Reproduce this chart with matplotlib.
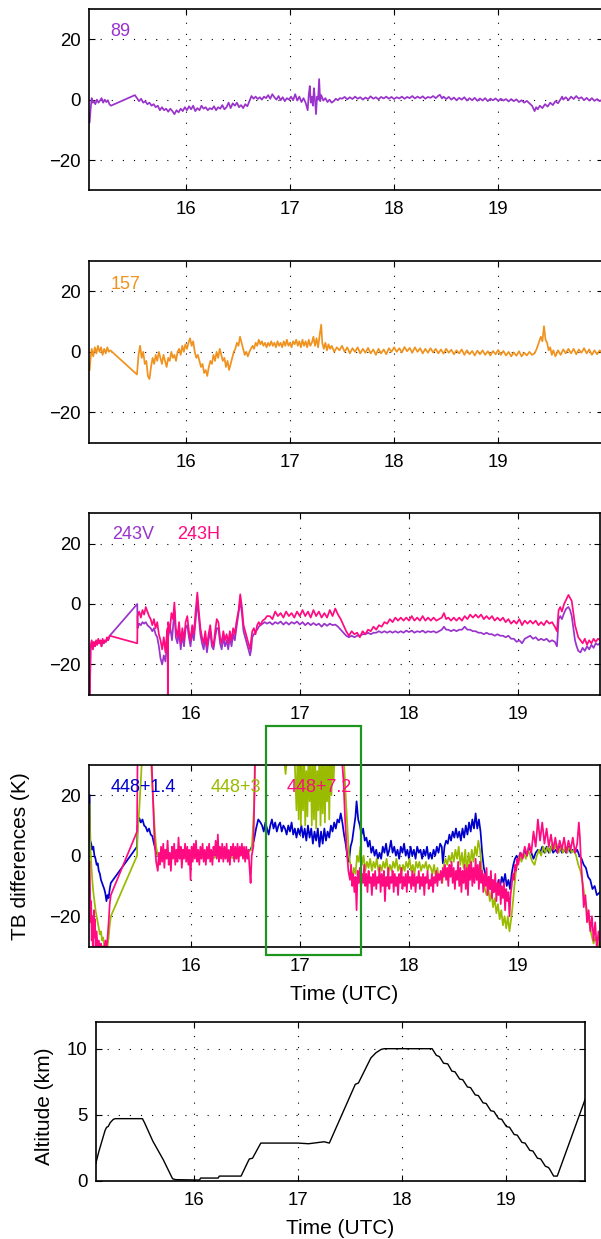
import matplotlib
matplotlib.use('Agg')
import matplotlib.pyplot as plt
from matplotlib.patches import Rectangle

plt.rcParams['font.family'] = ['Liberation Sans', 'DejaVu Sans']

# ---------------- data (time UTC hours, value) ----------------
ch89 = [(15.075,-7.5),(15.085,-3),(15.095,0.5),(15.105,-1),(15.115,-0.5),(15.13,-1.5),(15.145,0),(15.16,-1),
        (15.175,-0.3),(15.19,0.5),(15.205,-1),(15.22,0),(15.235,-0.8),(15.25,-0.2),(15.265,-1.5),(15.28,-2),
        (15.51,1.5),(15.53,0.5),(15.55,-0.5),(15.57,0.3),(15.59,-1),(15.61,-0.5),(15.63,-1.5),(15.65,-1),
        (15.67,-2),(15.69,-1.5),(15.71,-2.5),(15.73,-2),(15.75,-3.5),(15.77,-2.5),(15.79,-3.5),(15.81,-3),
        (15.83,-4),(15.85,-3),(15.87,-3.8),(15.89,-4.8),(15.91,-3.5),(15.93,-4.2),(15.95,-3),(15.97,-3.8),
        (15.99,-2.5),(16.01,-3.5),(16.03,-2.2),(16.05,-3.2),(16.07,-2),(16.09,-3.8),(16.11,-2.8),(16.13,-3.5),
        (16.15,-2),(16.17,-3),(16.19,-2.5),(16.21,-3.5),(16.23,-2.8),(16.25,-3.2),(16.27,-2.2),(16.29,-3.5),
        (16.31,-2.5),(16.33,-3),(16.35,-1.8),(16.37,-3.2),(16.39,-2.5),(16.41,-1),(16.43,-2.8),(16.45,-1.2),
        (16.47,-2),(16.49,-1),(16.51,-2.5),(16.53,-1.8),(16.55,-2.8),(16.57,-1.5),(16.59,-2.2),(16.61,-0.5),
        (16.63,1.2),(16.65,0.3),(16.67,1),(16.69,0.2),(16.71,0.8),(16.73,0),(16.75,1),(16.77,0.5),(16.79,1.5),
        (16.81,0.3),(16.83,1.8),(16.85,0.8),(16.87,0),(16.89,1.2),(16.91,-0.2),(16.93,0.8),(16.95,-0.5),
        (16.97,0.5),(16.99,0),(17.01,1),(17.03,-0.2),(17.05,1.8),(17.07,-0.3),(17.09,1),(17.11,-0.8),(17.13,0.5),
        (17.15,-1),(17.17,-3.5),(17.18,1.5),(17.19,4.5),(17.20,-1),(17.21,1),(17.22,-2),(17.23,3.8),(17.24,0),
        (17.25,-4.8),(17.26,1),(17.27,0),(17.28,6.8),(17.29,-0.5),(17.30,1.5),(17.32,-0.3),(17.34,0.5),
        (17.36,-0.8),(17.38,0),(17.40,-1),(17.42,-0.5),(17.44,0.3),(17.46,-0.2),(17.48,0.5),(17.50,0.3),
        (17.525,0.9),(17.55,0.1),(17.575,0.8),(17.60,0.2),(17.625,1),(17.65,0.3),(17.675,0.8),(17.70,0),
        (17.725,0.7),(17.75,0.2),(17.775,1.1),(17.80,0.3),(17.825,0.8),(17.85,0.1),(17.875,0.9),(17.90,0.4),
        (17.925,1),(17.95,0.3),(17.975,0.9),(18.00,0.2),(18.025,0.8),(18.05,0.4),(18.075,1),(18.10,0.3),
        (18.125,0.9),(18.15,0.5),(18.175,1.2),(18.20,0.4),(18.225,1),(18.25,0.5),(18.275,1.1),(18.30,0.3),
        (18.325,0.9),(18.35,0.6),(18.375,1.2),(18.40,0.5),(18.425,1.3),(18.44,1.6),(18.46,0.4),(18.475,1),
        (18.50,0.2),(18.525,0.9),(18.55,0),(18.575,0.7),(18.60,-0.2),(18.625,0.6),(18.65,0),(18.675,0.8),
        (18.70,-0.3),(18.725,0.5),(18.75,-0.2),(18.775,0.6),(18.80,-0.4),(18.825,0.4),(18.85,-0.3),(18.875,0.5),
        (18.90,-0.5),(18.925,0.3),(18.95,-0.2),(18.975,0.4),(19.00,-0.4),(19.025,0.3),(19.05,-0.3),(19.075,0.2),
        (19.10,-0.6),(19.125,0.2),(19.15,-0.5),(19.175,0.1),(19.20,-0.8),(19.225,-0.2),(19.25,-1),(19.275,-0.4),
        (19.30,-1.2),(19.325,-2),(19.35,-3.8),(19.365,-2.5),(19.38,-3.2),(19.40,-2),(19.425,-2.8),(19.45,-1.5),
        (19.475,-2.3),(19.50,-1),(19.525,-1.8),(19.55,-0.5),(19.575,-1.2),(19.60,0.2),(19.615,1),(19.625,0),
        (19.65,0.8),(19.675,-0.2),(19.70,1),(19.725,0.2),(19.75,1.2),(19.775,0.3),(19.80,0.8),(19.825,-0.2),
        (19.85,0.6),(19.875,-0.3),(19.90,0.5),(19.925,-0.4),(19.95,0.2),(19.975,-0.5),(20.0,0)]

ch157 = [(15.075,-6),(15.085,-2),(15.095,1),(15.11,-1.5),(15.125,1.5),(15.14,-0.5),(15.155,2),(15.17,0),
         (15.185,1.5),(15.20,-1),(15.215,1),(15.23,-0.5),(15.245,1.5),(15.26,0),(15.275,0.5),
         (15.53,-7.5),(15.545,-1),(15.56,2),(15.575,-2),(15.59,0),(15.605,-4),(15.62,-3),(15.635,-8),(15.65,-9),
         (15.665,-5),(15.68,-2),(15.695,-4),(15.71,-1),(15.725,-3),(15.74,0),(15.755,-2),(15.77,-4),(15.785,-1),
         (15.80,-3),(15.815,-5),(15.83,-2),(15.845,-3),(15.86,0),(15.875,-2),(15.89,-1),(15.905,-3),(15.92,0),
         (15.935,1),(15.95,-1),(15.965,2),(15.98,0),(15.995,2.5),(16.01,1),(16.025,3),(16.04,4.5),(16.055,2),
         (16.07,3.5),(16.085,0),(16.10,-2),(16.115,-1),(16.13,-3),(16.145,-5),(16.16,-4),(16.175,-7),(16.19,-6),
         (16.205,-8),(16.22,-5),(16.235,-3),(16.25,-4),(16.265,-1),(16.28,-3),(16.295,0),(16.31,-2),(16.325,1),
         (16.34,-1),(16.355,-3),(16.37,-2),(16.385,-5),(16.40,-3),(16.415,-6),(16.43,-4),(16.445,-2),(16.46,0),
         (16.475,1),(16.49,3),(16.505,2),(16.52,5),(16.535,3),(16.55,1),(16.565,-1),(16.58,0),(16.595,-1.5),
         (16.61,0),(16.625,1),(16.64,2),(16.655,1),(16.67,3),(16.685,2),(16.70,4),(16.715,2.5),(16.73,3.5),
         (16.745,2),(16.76,3),(16.775,1.5),(16.79,3),(16.805,2),(16.82,3.5),(16.835,2),(16.85,3),(16.865,1.5),
         (16.88,3.5),(16.895,2),(16.91,3),(16.925,1.5),(16.94,3.5),(16.955,2),(16.97,4),(16.985,2),(17.00,3),
         (17.015,1.5),(17.03,3.5),(17.045,2.5),(17.06,4),(17.075,2),(17.09,3.5),(17.105,1.5),(17.12,4),(17.135,2),
         (17.15,3.5),(17.165,1.5),(17.18,4),(17.195,2),(17.21,3),(17.225,5),(17.24,2),(17.255,4.5),(17.27,1.5),
         (17.285,5.5),(17.30,9),(17.31,3),(17.325,1),(17.34,3),(17.355,0.5),(17.37,2.5),(17.385,1),(17.40,2),
         (17.425,0),(17.45,1.5),(17.475,0.5),(17.50,2),(17.525,0),(17.55,1.5),(17.575,-0.5),(17.60,1.2),
         (17.625,0),(17.65,1.5),(17.675,-0.5),(17.70,1),(17.725,-0.3),(17.75,1.3),(17.775,-0.5),(17.80,0.8),
         (17.825,-1),(17.85,1),(17.875,-0.5),(17.90,0.8),(17.925,-0.8),(17.95,1.2),(17.975,0),(18.00,1.5),
         (18.025,0),(18.05,1.2),(18.075,-0.2),(18.10,1.6),(18.125,0.2),(18.15,1.3),(18.175,-0.3),(18.20,1.5),
         (18.225,0),(18.25,1.2),(18.275,-0.5),(18.30,1),(18.325,-0.3),(18.35,1.2),(18.375,-0.2),(18.40,1),
         (18.425,-0.5),(18.45,0.8),(18.475,-0.6),(18.50,1),(18.525,-0.3),(18.55,0.7),(18.575,-0.8),(18.60,0.5),
         (18.625,-0.5),(18.65,0.8),(18.675,-1),(18.70,0.5),(18.725,-0.8),(18.75,0.3),(18.775,-1.2),(18.80,0.4),
         (18.825,-0.8),(18.85,0.5),(18.875,-1),(18.90,0.2),(18.925,-1.2),(18.95,0.3),(18.975,-0.8),(19.00,0.6),
         (19.025,-1),(19.05,0.3),(19.075,-1.2),(19.10,0),(19.125,-1.5),(19.15,-0.2),(19.175,-1.3),(19.20,0.2),
         (19.225,-1.5),(19.25,-0.3),(19.275,-1.2),(19.30,0),(19.325,-1),(19.35,-0.5),(19.37,1),(19.39,3),
         (19.41,5),(19.425,3.5),(19.44,8.5),(19.455,4),(19.47,3),(19.485,0.5),(19.50,1.5),(19.515,-1),(19.53,0.5),
         (19.55,-1.5),(19.575,0.5),(19.60,-1),(19.625,0.8),(19.65,-0.5),(19.675,1),(19.70,-0.5),(19.725,1),
         (19.75,-0.8),(19.775,0.8),(19.80,-0.3),(19.825,1.2),(19.85,-0.5),(19.875,0.8),(19.90,-1),(19.925,0.5),
         (19.95,-0.8),(19.975,0.5),(20.0,-0.5)]

ch243V = [(15.078,-30),(15.085,-14),(15.095,-12.5),(15.105,-15),(15.115,-13),(15.125,-14),(15.135,-12.5),
          (15.145,-13.5),(15.155,-12),(15.165,-13),(15.175,-12.5),(15.185,-14),(15.195,-12),(15.205,-13),
          (15.215,-12.5),(15.225,-12.5),(15.235,-11.5),(15.245,-12),(15.26,-10.5),
          (15.512,0),(15.515,-8),(15.53,-6.5),(15.545,-7),(15.56,-6),(15.575,-6.5),(15.59,-6),(15.605,-7),
          (15.62,-7.5),(15.635,-8),(15.65,-9),(15.665,-8),(15.68,-10),(15.695,-11),(15.71,-14),(15.725,-18),
          (15.74,-20),(15.755,-17),(15.77,-19),(15.785,-13),(15.80,-10),(15.815,-8),(15.83,-12),(15.845,-5),
          (15.852,-2),(15.865,-11),(15.88,-13),(15.895,-9),(15.91,-15),(15.925,-10),(15.94,-14),(15.955,-8),
          (15.97,-7),(15.985,-11),(16.0,-14),(16.015,-9),(16.03,-12),(16.045,-6),(16.062,1),(16.075,-4),
          (16.09,-10),(16.105,-13),(16.12,-15),(16.135,-11),(16.15,-16),(16.165,-12),(16.18,-9),(16.195,-14),
          (16.21,-15),(16.225,-11),(16.24,-8),(16.255,-8),(16.27,-13),(16.285,-15),(16.30,-11),(16.315,-14),
          (16.33,-12),(16.345,-15),(16.36,-11),(16.375,-14),(16.39,-10),(16.405,-12),(16.42,-8),(16.44,-3),
          (16.455,1),(16.47,-3),(16.485,-9),(16.50,-11),(16.515,-13),(16.53,-15),(16.545,-17),(16.555,-15),
          (16.565,-11),(16.58,-10),(16.595,-9),(16.61,-8.5),(16.625,-7.5),(16.64,-7),(16.66,-6.5),(16.68,-6),
          (16.70,-6.5),(16.725,-6),(16.75,-6.8),(16.775,-6),(16.80,-6.5),(16.825,-5.8),(16.85,-6.8),(16.875,-6),
          (16.90,-6.8),(16.925,-6),(16.95,-6.5),(16.975,-5.8),(17.0,-6.8),(17.025,-6),(17.05,-7),(17.075,-6.2),
          (17.10,-7),(17.125,-6.3),(17.15,-7),(17.175,-6.5),(17.20,-7.5),(17.225,-6.5),(17.25,-7.2),(17.275,-6.5),
          (17.30,-7),(17.325,-6.8),(17.35,-7.5),(17.375,-8.5),(17.40,-9.5),(17.425,-10.5),(17.45,-11),
          (17.475,-10.5),(17.50,-11),(17.525,-10.5),(17.55,-10.5),(17.575,-10),(17.60,-10),(17.625,-9.5),
          (17.65,-10),(17.675,-9.5),(17.70,-9.5),(17.725,-9),(17.75,-9.5),(17.775,-9),(17.80,-9.5),(17.825,-9),
          (17.85,-9.5),(17.875,-9),(17.90,-9.5),(17.925,-9),(17.95,-9.5),(17.975,-8.8),(18.00,-9.3),(18.025,-8.8),
          (18.05,-9.5),(18.075,-9),(18.10,-9.3),(18.125,-8.8),(18.15,-9.5),(18.175,-9),(18.20,-9.3),(18.225,-9),
          (18.25,-9.5),(18.275,-9),(18.30,-8.5),(18.32,-7.5),(18.34,-8.5),(18.36,-8.5),(18.385,-9),(18.41,-8.5),
          (18.435,-9),(18.46,-8.5),(18.485,-8.5),(18.51,-7.5),(18.535,-8.5),(18.56,-8.5),(18.585,-9),(18.61,-9),
          (18.635,-9.5),(18.66,-9.5),(18.685,-10),(18.71,-9.5),(18.735,-10),(18.76,-10),(18.785,-10.5),
          (18.81,-10),(18.835,-10.5),(18.86,-10.5),(18.885,-11),(18.91,-10.5),(18.935,-11.5),(18.96,-11.5),
          (18.985,-12.5),(19.01,-12),(19.035,-13),(19.06,-11.5),(19.085,-11),(19.11,-10.5),(19.135,-11.5),
          (19.16,-11),(19.185,-12),(19.21,-11.5),(19.235,-12),(19.26,-11.5),(19.285,-12.5),(19.31,-12),
          (19.335,-12.5),(19.355,-14),(19.37,-5),(19.385,-4),(19.40,-5),(19.42,-3),(19.44,-1.5),(19.46,-1),
          (19.475,-2),(19.49,-4),(19.505,-8),(19.52,-12),(19.535,-14),(19.55,-15.5),(19.57,-16),(19.59,-14.5),
          (19.61,-15.5),(19.63,-14),(19.65,-15),(19.67,-13.5),(19.69,-14.5),(19.71,-13),(19.73,-13.5),(19.75,-13)]

ch243H = [(15.078,-30),(15.085,-14),(15.095,-12),(15.105,-15),(15.115,-12.5),(15.125,-14),(15.135,-12),
          (15.145,-13.5),(15.155,-11.5),(15.165,-13),(15.175,-12),(15.185,-14),(15.195,-11.5),(15.205,-13),
          (15.215,-12),(15.225,-12.5),(15.235,-11),(15.245,-12),(15.26,-10.5),
          (15.512,-13),(15.515,-4),(15.53,-2.5),(15.545,-4.5),(15.56,-2),(15.575,-3.5),(15.59,-1),(15.605,-2.5),
          (15.62,-4),(15.635,-5),(15.65,-7),(15.665,-5),(15.68,-8),(15.695,-6),(15.71,-10),(15.725,-12),
          (15.74,-15),(15.755,-11),(15.77,-16),(15.785,-9),(15.79,-8),(15.792,-30),(15.795,-6),(15.81,-9),
          (15.825,-3),(15.84,-5),(15.852,0.5),(15.865,-8),(15.88,-11),(15.895,-6),(15.91,-13),(15.925,-8),
          (15.94,-12),(15.955,-6),(15.97,-4),(15.985,-9),(16.0,-12),(16.015,-7),(16.03,-10),(16.045,-3),
          (16.062,3.8),(16.075,-2),(16.09,-8),(16.105,-11),(16.12,-13),(16.135,-9),(16.15,-14),(16.165,-10),
          (16.18,-7),(16.195,-12),(16.21,-14),(16.225,-9),(16.24,-5),(16.255,-6),(16.27,-11),(16.285,-13),
          (16.30,-9),(16.315,-12),(16.33,-10),(16.345,-13),(16.36,-9),(16.375,-12),(16.39,-8),(16.405,-10),
          (16.42,-6),(16.44,-2),(16.455,3.2),(16.47,-1),(16.485,-7),(16.50,-9),(16.515,-11),(16.53,-13),
          (16.545,-15),(16.555,-12),(16.565,-9),(16.58,-8),(16.595,-10),(16.61,-7),(16.625,-6),(16.64,-7),
          (16.66,-5.5),(16.68,-5),(16.70,-4),(16.725,-4),(16.75,-5),(16.775,-2.5),(16.80,-4),(16.825,-3),
          (16.85,-4.5),(16.875,-2.5),(16.90,-4),(16.925,-3),(16.95,-4.5),(16.975,-2.5),(17.0,-4),(17.025,-2),
          (17.05,-4),(17.075,-2.5),(17.10,-4.5),(17.125,-2),(17.15,-4),(17.175,-2.5),(17.20,-4.5),(17.225,-3),
          (17.25,-4.5),(17.275,-2),(17.30,-4),(17.325,-1.5),(17.35,-3.5),(17.375,-5),(17.40,-7),(17.425,-9),
          (17.45,-10.5),(17.475,-9),(17.50,-10),(17.525,-9.5),(17.55,-11),(17.575,-9),(17.60,-10),(17.625,-8.5),
          (17.65,-9),(17.675,-7.5),(17.70,-8.5),(17.725,-7),(17.75,-7.5),(17.775,-6),(17.80,-6.5),(17.825,-5),
          (17.85,-6),(17.875,-4.5),(17.90,-5.5),(17.925,-4.5),(17.95,-5.5),(17.975,-4.5),(18.00,-5.5),(18.025,-4),
          (18.05,-5.5),(18.075,-4.5),(18.10,-5.5),(18.125,-4),(18.15,-5.5),(18.175,-4.5),(18.20,-5.5),
          (18.225,-4.5),(18.25,-5.5),(18.275,-5),(18.30,-4.5),(18.32,-3),(18.34,-5),(18.36,-4.5),(18.385,-5.5),
          (18.41,-4.5),(18.435,-5.5),(18.46,-4.5),(18.485,-5.5),(18.51,-4),(18.535,-5),(18.56,-3.5),(18.585,-4.5),
          (18.61,-3.5),(18.635,-4.5),(18.66,-3.5),(18.685,-5),(18.71,-4),(18.735,-5),(18.76,-4),(18.785,-5.5),
          (18.81,-4.5),(18.835,-5.5),(18.86,-4.5),(18.885,-6),(18.91,-5),(18.935,-6.5),(18.96,-5.5),(18.985,-6.5),
          (19.01,-5),(19.035,-7),(19.06,-5.5),(19.085,-6.5),(19.11,-5.5),(19.135,-6.5),(19.16,-5.5),(19.185,-7),
          (19.21,-6),(19.235,-7),(19.26,-5.5),(19.285,-6.5),(19.31,-6),(19.335,-7.5),(19.355,-9),(19.37,-2),
          (19.385,-1),(19.40,-2.5),(19.42,0),(19.44,1.5),(19.46,3),(19.475,2),(19.49,1),(19.505,-3),(19.52,-7),
          (19.535,-9),(19.55,-11),(19.57,-12),(19.59,-13),(19.61,-11.5),(19.63,-13.5),(19.65,-12),(19.67,-13),
          (19.69,-11.5),(19.71,-12.5),(19.73,-11.5),(19.75,-12)]

ch448_14 = [(15.076,20),(15.082,5),(15.09,4),(15.10,2),(15.11,3),(15.12,0),(15.13,-1),(15.14,-3),(15.15,-2.5),
            (15.16,-5),(15.17,-6),(15.18,-8),(15.19,-9),(15.20,-10),(15.21,-11),(15.22,-12.5),(15.23,-15),
            (15.24,-13),(15.25,-14),(15.26,-11),(15.27,-9),
            (15.51,3),(15.515,10),(15.53,12.5),(15.545,11),(15.56,12),(15.575,10),(15.59,9.5),(15.605,8),(15.62,9),
            (15.635,7),(15.65,6.5),(15.665,4),(15.68,2),(15.70,0),(15.75,1),(15.8,-1),(15.85,1),(15.9,0),(15.95,1),
            (16.0,-1),(16.1,1),(16.2,0),(16.3,1),(16.4,0),(16.5,1),(16.55,2),(16.58,5),(16.60,9),(16.62,12),
            (16.64,11),(16.655,10),(16.67,8),(16.685,11),(16.70,9),(16.715,7),(16.73,10),(16.745,12),(16.76,9),
            (16.775,11),(16.79,8),(16.805,10),(16.82,11),(16.835,8),(16.85,10),(16.865,9),(16.88,7),(16.895,10),
            (16.91,8),(16.925,11),(16.94,7),(16.955,9),(16.97,6),(16.985,9),(17.0,7),(17.015,10),(17.03,6),
            (17.045,9),(17.06,5),(17.075,10),(17.09,6),(17.105,9),(17.12,4),(17.135,8),(17.15,5),(17.165,9),
            (17.18,3),(17.195,8),(17.21,4),(17.225,9),(17.24,5),(17.255,8),(17.27,6),(17.285,10),(17.30,8),
            (17.315,11),(17.33,9),(17.345,12),(17.36,11),(17.375,14),(17.39,11),(17.405,7),(17.42,4),(17.435,0),
            (17.45,-2),(17.465,3),(17.48,5),(17.495,9),(17.51,13),(17.52,18),(17.535,12),(17.55,10),(17.565,7),
            (17.58,9),(17.595,5),(17.61,6),(17.625,3),(17.64,5),(17.655,1),(17.67,3),(17.685,0),(17.70,2),
            (17.715,-1),(17.73,1),(17.745,-1),(17.76,3),(17.775,1),(17.79,4),(17.805,0),(17.82,2),(17.835,5),
            (17.85,1),(17.865,3),(17.88,0),(17.895,2),(17.91,-1),(17.925,3),(17.94,1),(17.955,4),(17.97,0),
            (17.985,2),(18.0,-1),(18.015,3),(18.03,0),(18.045,2),(18.06,-1),(18.075,3),(18.09,1),(18.105,2),
            (18.12,-1),(18.135,2),(18.15,0),(18.165,3),(18.18,-1),(18.195,1),(18.21,-1),(18.225,2),(18.24,0),
            (18.255,3),(18.27,1),(18.285,4),(18.30,3),(18.31,-2.5),(18.325,3),(18.34,5),(18.355,4),(18.37,7),
            (18.385,5),(18.40,8),(18.415,6),(18.43,9),(18.445,6),(18.46,8),(18.475,5),(18.49,9),(18.505,6),
            (18.52,10),(18.535,7),(18.55,11),(18.565,8),(18.58,12),(18.595,9),(18.61,14),(18.625,9),(18.64,12),
            (18.655,8),(18.67,1),(18.685,-4),(18.70,-6),(18.715,-9),(18.73,-7),(18.745,-11),(18.76,-8),
            (18.775,-12),(18.79,-9),(18.805,-11),(18.82,-8),(18.835,-10),(18.85,-7),(18.865,-9),(18.88,-6),
            (18.895,-10),(18.91,-8),(18.925,-11),(18.94,-6),(18.955,-3),(18.97,-1),(18.985,0),(19.0,-1),(19.02,1),
            (19.04,-0.5),(19.06,2),(19.08,0),(19.10,3),(19.12,1),(19.14,-1),(19.16,1),(19.18,2),(19.20,1),
            (19.22,3),(19.24,1),(19.26,3),(19.28,1),(19.30,3),(19.32,1),(19.34,2),(19.36,1),(19.38,3),(19.40,1),
            (19.42,2),(19.44,1),(19.46,3),(19.48,1),(19.50,2),(19.52,1),(19.54,2),(19.56,0),(19.58,-1),(19.60,-3),
            (19.62,-4),(19.64,-7),(19.66,-8),(19.68,-11),(19.70,-10),(19.72,-13),(19.75,-12)]

ch448_3 = [(15.076,17),(15.08,5),(15.09,-2),(15.10,-8),(15.11,-12),(15.12,-15),(15.13,-18),(15.14,-20),
           (15.15,-22),(15.16,-24),(15.17,-26),(15.18,-25),(15.19,-28),(15.20,-27),(15.21,-30),(15.22,-29),
           (15.23,-31),(15.24,-30),(15.25,-27),(15.26,-23),(15.27,-20),
           (15.51,0),(15.515,8),(15.53,15),(15.545,25),(15.56,35),(15.58,35),(15.60,33),(15.62,35),(15.64,30),
           (15.655,20),(15.67,10),(15.685,3),(15.70,0),(15.75,2),(15.8,-1),(15.9,1),(16.0,-1),(16.1,1),(16.2,-1),
           (16.3,1),(16.4,-1),(16.5,1),(16.56,2),(16.58,15),(16.595,35),(16.85,35),(16.87,27),(16.89,35),
           (16.95,35),(16.97,15),(16.98,35),(16.99,12),(17.0,35),(17.01,10),(17.02,30),(17.03,15),(17.04,35),
           (17.05,10),(17.06,28),(17.07,13),(17.08,35),(17.09,18),(17.10,35),(17.11,10),(17.12,30),(17.13,12),
           (17.14,35),(17.15,9),(17.16,28),(17.17,15),(17.18,35),(17.19,10),(17.20,32),(17.21,14),(17.22,35),
           (17.23,11),(17.24,30),(17.25,18),(17.26,35),(17.27,12),(17.28,35),(17.29,20),(17.30,35),(17.31,25),
           (17.32,35),(17.40,35),(17.42,20),(17.435,10),(17.45,0),(17.465,-3),(17.48,-8),(17.495,-4),(17.51,-6),
           (17.525,0),(17.54,-2),(17.555,3),(17.57,-3),(17.585,0),(17.60,-5),(17.615,-2),(17.63,-4),(17.645,-1),
           (17.66,-5),(17.675,-2),(17.69,-4),(17.705,-1),(17.72,-5),(17.735,-3),(17.75,-5),(17.765,-2),(17.78,-4),
           (17.795,-1),(17.81,-6),(17.825,-3),(17.84,-5),(17.855,-2),(17.87,-4),(17.885,-1),(17.90,-5),
           (17.915,-3),(17.93,-6),(17.945,-3),(17.96,-5),(17.975,-2),(17.99,-4),(18.005,-1),(18.02,-5),
           (18.035,-3),(18.05,-6),(18.065,-2),(18.08,-4),(18.095,-2),(18.11,-5),(18.125,-3),(18.14,-4),
           (18.155,-2),(18.17,-5),(18.185,-3),(18.20,-4),(18.215,-6),(18.23,-3),(18.245,-7),(18.26,-4),
           (18.275,-8),(18.29,-6),(18.305,-9),(18.32,-3),(18.335,-1),(18.35,-3),(18.365,0),(18.38,-2),(18.395,1),
           (18.41,-2),(18.425,2),(18.44,-1),(18.455,3),(18.47,-3),(18.485,1),(18.50,-4),(18.515,2),(18.53,-6),
           (18.545,1),(18.56,-3),(18.575,2),(18.59,-2),(18.605,3),(18.62,0),(18.635,5),(18.65,2),(18.665,-4),
           (18.68,-8),(18.695,-11),(18.71,-13),(18.725,-10),(18.74,-15),(18.755,-12),(18.77,-17),(18.785,-14),
           (18.80,-19),(18.815,-16),(18.83,-21),(18.845,-18),(18.86,-23),(18.875,-20),(18.89,-24),(18.905,-20),
           (18.92,-25),(18.935,-21),(18.95,-16),(18.965,-10),(18.98,-5),(18.995,-2),(19.01,0),(19.03,-2),(19.05,1),
           (19.07,-1),(19.09,2),(19.11,0),(19.13,-2),(19.15,-3),(19.17,0),(19.19,2),(19.21,0),(19.23,3),(19.25,1),
           (19.27,3),(19.29,1),(19.31,4),(19.33,2),(19.35,4),(19.37,1),(19.39,3),(19.41,1),(19.43,3),(19.45,1),
           (19.47,3),(19.49,1),(19.51,2),(19.53,0),(19.55,-3),(19.57,-5),(19.59,-9),(19.61,-14),(19.63,-18),
           (19.65,-22),(19.67,-26),(19.69,-29),(19.71,-27),(19.73,-30),(19.75,-28)]

ch448_72 = [(15.076,-2),(15.08,-10),(15.085,-22),(15.09,-15),(15.095,-28),(15.10,-20),(15.105,-31),(15.11,-24),
            (15.115,-18),(15.12,-27),(15.125,-21),(15.13,-31),(15.14,-25),(15.15,-31),(15.16,-28),(15.17,-31),
            (15.18,-29),(15.19,-31),(15.20,-30),(15.21,-31),(15.22,-28),(15.23,-31),(15.24,-27),(15.25,-22),
            (15.26,-16),(15.27,-13),
            (15.51,8),(15.515,35),(15.64,35),(15.655,20),(15.67,5),(15.685,-2),(15.70,-5),(15.71,1),(15.72,-3),
            (15.73,3),(15.74,-2),(15.75,4),(15.76,-4),(15.77,2),(15.78,-1),(15.79,5),(15.80,-3),(15.81,1),
            (15.82,-5),(15.83,3),(15.84,-1),(15.85,4),(15.86,-3),(15.87,2),(15.88,-2),(15.89,6),(15.90,-1),
            (15.91,3),(15.92,-4),(15.93,2),(15.94,-1),(15.95,4),(15.96,-2),(15.97,3),(15.98,-3),(15.99,2),
            (16.00,-8),(16.01,3),(16.02,-2),(16.03,4),(16.04,-1),(16.05,5),(16.06,-2),(16.07,2),(16.08,-3),
            (16.09,3),(16.10,-1),(16.11,4),(16.12,-2),(16.13,2),(16.14,-3),(16.15,3),(16.16,-1),(16.17,4),
            (16.18,-2),(16.19,2),(16.20,-3),(16.21,3),(16.22,0),(16.23,5),(16.24,-1),(16.25,7),(16.26,-2),
            (16.27,3),(16.28,-1),(16.29,4),(16.30,-2),(16.31,3),(16.32,-1),(16.33,4),(16.34,-2),(16.35,2),
            (16.36,-3),(16.37,3),(16.38,0),(16.39,4),(16.40,-2),(16.41,3),(16.42,-1),(16.43,4),(16.44,-2),
            (16.45,3),(16.46,0),(16.47,4),(16.48,-1),(16.49,3),(16.50,-2),(16.51,3),(16.52,-1),(16.53,2),
            (16.54,-4),(16.55,-9),(16.56,0),(16.575,3),(16.585,20),(16.59,35),(17.38,35),(17.40,25),(17.415,12),
            (17.43,2),(17.445,-5),(17.46,-8),(17.47,-3),(17.48,-10),(17.49,-6),(17.50,-12),(17.51,-7),(17.52,-18),
            (17.53,-5),(17.54,-9),(17.55,-4),(17.56,-11),(17.57,-6),(17.58,-9),(17.59,-3),(17.60,-10),(17.61,-6),
            (17.62,-12),(17.63,-5),(17.64,-9),(17.65,-7),(17.66,-13),(17.67,-6),(17.68,-10),(17.69,-5),(17.70,-11),
            (17.71,-7),(17.72,-9),(17.73,-4),(17.74,-12),(17.75,-6),(17.76,-10),(17.77,-5),(17.78,-15),(17.79,-7),
            (17.80,-10),(17.81,-4),(17.82,-11),(17.83,-7),(17.84,-9),(17.85,-5),(17.86,-12),(17.87,-6),(17.88,-10),
            (17.89,-7),(17.90,-13),(17.91,-6),(17.92,-9),(17.93,-4),(17.94,-11),(17.95,-7),(17.96,-10),(17.97,-6),
            (17.98,-12),(17.99,-5),(18.00,-9),(18.01,-7),(18.02,-11),(18.03,-5),(18.04,-10),(18.05,-6),(18.06,-12),
            (18.07,-7),(18.08,-9),(18.09,-5),(18.10,-11),(18.11,-7),(18.12,-10),(18.13,-6),(18.14,-13),(18.15,-7),
            (18.16,-9),(18.17,-5),(18.18,-11),(18.19,-8),(18.20,-10),(18.21,-6),(18.22,-12),(18.23,-7),(18.24,-9),
            (18.25,-5),(18.26,-10),(18.27,-6),(18.28,-8),(18.29,-5),(18.30,-9),(18.31,-4),(18.32,-7),(18.33,-3),
            (18.34,-8),(18.35,-4),(18.36,-10),(18.37,-3),(18.38,-7),(18.39,-2),(18.40,-9),(18.41,-4),(18.42,-11),
            (18.43,-5),(18.44,-8),(18.45,-2),(18.46,-10),(18.47,-4),(18.48,-12),(18.49,-5),(18.50,-9),(18.51,-3),
            (18.52,-11),(18.53,-4),(18.54,-13),(18.55,-3),(18.56,-8),(18.57,-2),(18.58,-10),(18.59,-4),(18.60,-9),
            (18.61,-1),(18.62,-8),(18.63,-3),(18.64,-11),(18.65,-2),(18.66,-9),(18.67,-5),(18.68,-12),(18.69,-6),
            (18.70,-10),(18.71,-4),(18.72,-13),(18.73,-7),(18.74,-11),(18.75,-5),(18.76,-14),(18.77,-8),
            (18.78,-12),(18.79,-6),(18.80,-15),(18.81,-9),(18.82,-13),(18.83,-8),(18.84,-16),(18.85,-10),
            (18.86,-14),(18.87,-9),(18.88,-18),(18.89,-11),(18.90,-15),(18.91,-12),(18.92,-20),(18.93,-13),
            (18.94,-10),(18.95,-6),(18.96,-8),(18.97,-3),(18.98,-5),(18.99,-1),(19.00,-3),(19.02,1),(19.04,-1),
            (19.06,3),(19.08,0),(19.10,4),(19.12,1),(19.14,8),(19.16,3),(19.18,12),(19.20,5),(19.22,11),(19.24,4),
            (19.26,9),(19.28,3),(19.30,7),(19.32,2),(19.34,6),(19.36,1),(19.38,5),(19.40,2),(19.42,6),(19.44,1),
            (19.46,5),(19.48,2),(19.50,6),(19.52,1),(19.54,4),(19.555,11),(19.565,6),(19.575,-2),(19.59,-10),
            (19.60,-17),(19.615,-13),(19.63,-22),(19.645,-18),(19.66,-25),(19.675,-20),(19.69,-28),(19.705,-22),
            (19.72,-31),(19.735,-25),(19.75,-30)]

altitude = [(15.051,1.3),(15.08,2.2),(15.11,3.0),(15.14,3.8),(15.155,4.05),(15.17,4.1),(15.19,4.4),(15.22,4.65),
            (15.24,4.7),(15.50,4.7),(15.52,4.4),(15.60,3.0),(15.70,1.6),(15.79,0.15),(15.82,0.08),(16.05,0.05),
            (16.06,0.2),(16.23,0.2),(16.24,0.35),(16.45,0.35),(16.52,1.5),(16.53,1.65),(16.56,1.7),(16.64,2.85),
            (17.0,2.85),(17.1,2.8),(17.2,2.9),(17.25,2.95),(17.30,2.85),(17.55,7.3),(17.58,7.4),(17.70,9.3),
            (17.75,9.7),(17.80,9.95),(17.83,10.0),(18.29,10.0),(18.33,9.5),(18.36,9.4),(18.40,8.9),(18.44,8.85),
            (18.48,8.3),(18.51,8.25),(18.555,7.7),(18.585,7.65),(18.63,7.1),(18.66,7.05),(18.705,6.5),
            (18.735,6.45),(18.78,5.9),(18.81,5.85),(18.855,5.3),(18.885,5.25),(18.93,4.7),(18.96,4.65),
            (19.005,4.1),(19.035,4.05),(19.08,3.5),(19.11,3.45),(19.155,2.9),(19.185,2.85),(19.23,2.3),
            (19.26,2.25),(19.305,1.7),(19.335,1.65),(19.38,1.1),(19.41,1.0),(19.42,0.9),(19.46,0.35),(19.495,0.35),
            (19.765,6.2)]

# ---------------- layout ----------------
W, H = 601, 1239
fig = plt.figure(figsize=(6.01, 12.39), dpi=100)

def add(l, r, t, b):
    return fig.add_axes([l / W, 1 - b / H, (r - l) / W, (b - t) / H])

def style(ax, xlim, ylim, yt):
    ax.set_xlim(xlim)
    ax.set_ylim(ylim)
    ax.set_xticks([16, 17, 18, 19])
    ax.set_yticks(yt)
    ax.tick_params(direction='in', top=True, right=True, length=4.5, width=0.8, labelsize=13.4)
    ax.tick_params(axis='x', pad=8)
    ax.tick_params(axis='y', pad=6)
    for s in ax.spines.values():
        s.set_linewidth(1.2)
    ax.grid(True, color='k', linestyle=(0, (1, 9)), linewidth=0.8)
    ax.set_axisbelow(True)

def draw(ax, pairs, color, lw=1.25):
    t, v = zip(*pairs)
    ax.plot(t, v, color=color, lw=lw)

PURPLE = '#9933CC'
ORANGE = '#F0921E'
PINK = '#FF0A80'
BLUE = '#0000CC'
LIME = '#99BB00'

ax1 = add(89.3, 603, 9, 190.3)
style(ax1, (15.072, 20.007), (-30, 30), [-20, 0, 20])
draw(ax1, ch89, PURPLE)
ax1.text(15.27, 22.4, '89', color=PURPLE, fontsize=13, va='center', ha='left')

ax2 = add(89.3, 603, 261.2, 442.5)
style(ax2, (15.072, 20.007), (-30, 30), [-20, 0, 20])
draw(ax2, ch157, ORANGE)
ax2.text(15.28, 22.4, '157', color=ORANGE, fontsize=13, va='center', ha='left')

ax3 = add(89.3, 599.8, 513.3, 694.7)
style(ax3, (15.073, 19.747), (-30, 30), [-20, 0, 20])
draw(ax3, ch243V, PURPLE)
draw(ax3, ch243H, PINK)
ax3.text(15.28, 23, '243V', color=PURPLE, fontsize=13, va='center', ha='left')
ax3.text(15.88, 23, '243H', color=PINK, fontsize=13, va='center', ha='left')

ax4 = add(89.3, 599.8, 765, 946.5)
style(ax4, (15.073, 19.747), (-30, 30), [-20, 0, 20])
draw(ax4, ch448_14, BLUE)
draw(ax4, ch448_3, LIME)
draw(ax4, ch448_72, PINK)
ax4.text(15.27, 22.6, '448+1.4', color=BLUE, fontsize=13, va='center', ha='left')
ax4.text(16.18, 22.6, '448+3', color=LIME, fontsize=13, va='center', ha='left')
ax4.text(16.88, 22.6, '448+7.2', color=PINK, fontsize=13, va='center', ha='left')

ax5 = add(95.8, 585.3, 1022.3, 1180.7)
style(ax5, (15.051, 19.765), (0, 12), [0, 5, 10])
draw(ax5, altitude, 'k', lw=1.0)

fig.text(21 / W, 1 - 856 / H, 'TB differences (K)', rotation=90, ha='center', va='center', fontsize=15)
fig.text(344.5 / W, 1 - 995 / H, 'Time (UTC)', ha='center', va='center', fontsize=15)
fig.text(45 / W, 1 - 1106 / H, 'Altitude (km)', rotation=90, ha='center', va='center', fontsize=15)
fig.text(340.5 / W, 1 - 1228 / H, 'Time (UTC)', ha='center', va='center', fontsize=15)

rect = Rectangle((265.5 / W, 1 - 955.3 / H), (361 - 265.5) / W, (955.3 - 726) / H,
                 transform=fig.transFigure, fill=False, edgecolor='#1E961E', linewidth=1.6, zorder=10)
fig.patches.append(rect)

fig.savefig('out.png', dpi=100)
